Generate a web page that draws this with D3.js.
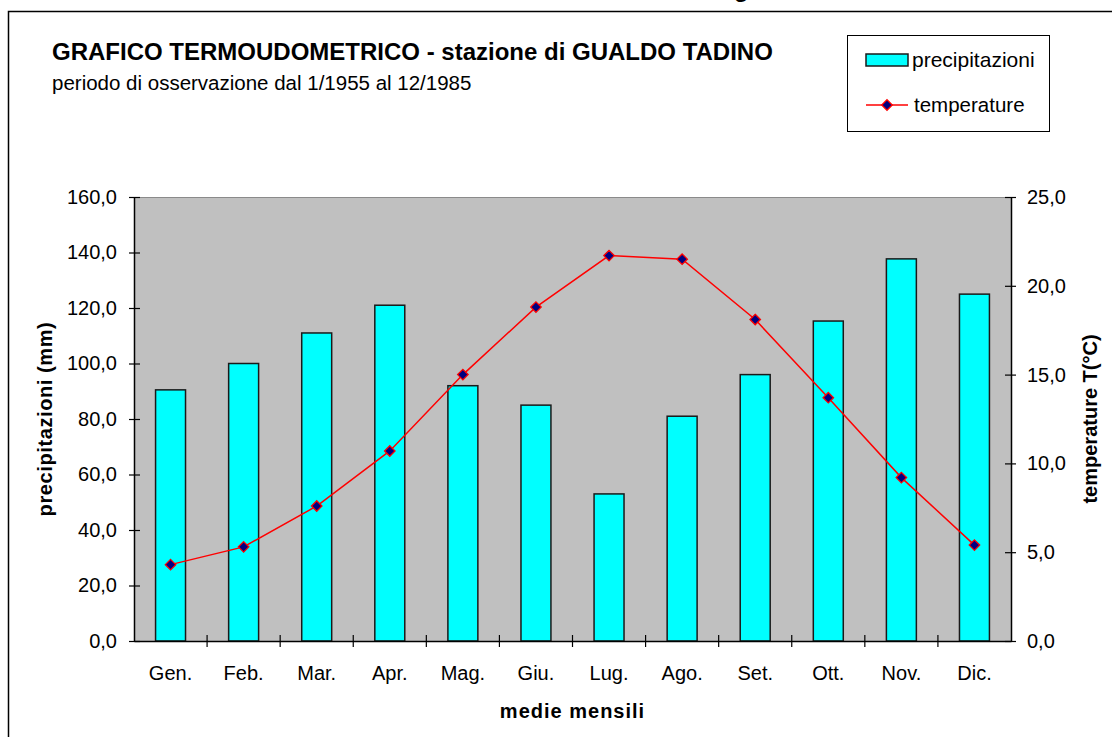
<!DOCTYPE html>
<html>
<head>
<meta charset="utf-8">
<script src="https://cdn.jsdelivr.net/npm/d3@7"></script>
<style>
  body { margin: 0; background: #fff; }
  svg { display: block; font-family: "Liberation Sans", Arial, sans-serif; }
</style>
</head>
<body>
<div id="chart"></div>
<script>
// monthly means, Gualdo Tadino 1955-1985
const months = ["Gen.", "Feb.", "Mar.", "Apr.", "Mag.", "Giu.", "Lug.", "Ago.", "Set.", "Ott.", "Nov.", "Dic."];
const precipitazioni = [90.5, 100.0, 111.0, 121.0, 92.0, 85.0, 53.0, 81.0, 96.0, 115.3, 137.7, 125.0];
const temperature = [4.3, 5.3, 7.6, 10.7, 15.0, 18.8, 21.7, 21.5, 18.1, 13.7, 9.2, 5.4];
const precTicks = [0, 20, 40, 60, 80, 100, 120, 140, 160];
const tempTicks = [0, 5, 10, 15, 20, 25];

const width = 1112, height = 737;
const margin = {top: 197, right: 101, bottom: 96, left: 134};
const plotW = width - margin.left - margin.right;
const plotH = height - margin.top - margin.bottom;

const fmt = v => d3.format(".1f")(v).replace(".", ",");

const svg = d3.select("#chart").append("svg")
    .attr("width", width).attr("height", height);

// outer frame (runs off the right/bottom edge)
svg.append("rect")
    .attr("x", 8.5).attr("y", 11.5)
    .attr("width", width + 20).attr("height", height + 20)
    .attr("fill", "none").attr("stroke", "#000").attr("stroke-width", 1.5);

// clipped glyph of a caption above the frame
svg.append("text")
    .attr("x", 734).attr("y", -3)
    .attr("font-size", 24).attr("font-weight", "bold")
    .text("g");

// titles
svg.append("text")
    .attr("x", 52).attr("y", 60)
    .attr("font-size", 24).attr("font-weight", "bold")
    .text("GRAFICO TERMOUDOMETRICO - stazione di GUALDO TADINO");
svg.append("text")
    .attr("x", 52).attr("y", 90)
    .attr("font-size", 20.5)
    .text("periodo di osservazione dal 1/1955 al 12/1985");

const x = d3.scaleBand().domain(months).range([0, plotW]).paddingInner(0.59).paddingOuter(0.295);
const xb = d3.scaleBand().domain(months).range([0, plotW]);
const yP = d3.scaleLinear().domain([0, 160]).range([plotH, 0]);
const yT = d3.scaleLinear().domain([0, 25]).range([plotH, 0]);

const g = svg.append("g").attr("transform", `translate(${margin.left},${margin.top})`);

g.append("rect")
    .attr("width", plotW).attr("height", plotH)
    .attr("fill", "#c0c0c0");
g.append("line")
    .attr("x1", 0).attr("x2", plotW).attr("y1", 0.5).attr("y2", 0.5)
    .attr("stroke", "#8a8a8a").attr("stroke-width", 1);

// bars
g.selectAll("rect.bar")
    .data(precipitazioni)
    .enter().append("rect")
    .attr("class", "bar")
    .attr("x", (d, i) => x(months[i]))
    .attr("y", d => yP(d))
    .attr("width", x.bandwidth())
    .attr("height", d => plotH - yP(d))
    .attr("fill", "#00ffff")
    .attr("stroke", "#1a1a1a").attr("stroke-width", 1.5);

// axes
const axisLeft = d3.axisLeft(yP).tickValues(precTicks).tickFormat(fmt).tickSizeInner(5).tickSizeOuter(0).tickPadding(12);
const axisRight = d3.axisRight(yT).tickValues(tempTicks).tickFormat(fmt).tickSizeInner(5).tickSizeOuter(0).tickPadding(11);
const axisBottom = d3.axisBottom(xb).tickSize(0).tickPadding(25);

const styleAxis = sel => {
    sel.select(".domain").attr("stroke", "#000").attr("stroke-width", 1.5);
    sel.selectAll(".tick line").attr("stroke", "#000").attr("stroke-width", 1.2);
    sel.selectAll(".tick text").attr("font-size", 20).attr("fill", "#000")
        .attr("font-family", "Liberation Sans, Arial, sans-serif");
};

const gl = g.append("g").call(axisLeft).call(styleAxis);
gl.selectAll(".tick").append("line").attr("x2", 6).attr("stroke", "#000").attr("stroke-width", 1.2);

const gr = g.append("g").attr("transform", `translate(${plotW},0)`).call(axisRight).call(styleAxis);
gr.selectAll(".tick").append("line").attr("x2", -6).attr("stroke", "#000").attr("stroke-width", 1.2);

const gb = g.append("g").attr("transform", `translate(0,${plotH})`).call(axisBottom).call(styleAxis);
gb.selectAll(".tick text").attr("dy", "0.71em");
// ticks at category boundaries
gb.selectAll("line.sep")
    .data(months.slice(1))
    .enter().append("line")
    .attr("class", "sep")
    .attr("x1", d => xb(d)).attr("x2", d => xb(d))
    .attr("y1", -6).attr("y2", 6)
    .attr("stroke", "#000").attr("stroke-width", 1.2);

// temperature line
const line = d3.line()
    .x((d, i) => xb(months[i]) + xb.bandwidth() / 2)
    .y(d => yT(d));
g.append("path")
    .datum(temperature)
    .attr("d", line)
    .attr("fill", "none").attr("stroke", "#ff0000").attr("stroke-width", 1.5);

const diamond = d3.symbol().type(d3.symbolDiamond2).size(70);
g.selectAll("path.pt")
    .data(temperature)
    .enter().append("path")
    .attr("class", "pt")
    .attr("d", diamond)
    .attr("transform", (d, i) => `translate(${xb(months[i]) + xb.bandwidth() / 2},${yT(d)})`)
    .attr("fill", "#000080").attr("stroke", "#ff0000").attr("stroke-width", 1.3);

// axis titles
svg.append("text")
    .attr("transform", `translate(52,${margin.top + plotH / 2}) rotate(-90)`)
    .attr("text-anchor", "middle")
    .attr("font-size", 20).attr("font-weight", "bold").attr("letter-spacing", 0.6)
    .text("precipitazioni (mm)");
svg.append("text")
    .attr("transform", `translate(1097,${margin.top + plotH / 2}) rotate(-90)`)
    .attr("text-anchor", "middle")
    .attr("font-size", 20).attr("font-weight", "bold")
    .text("temperature T(°C)");
svg.append("text")
    .attr("x", margin.left + plotW / 2).attr("y", 718)
    .attr("text-anchor", "middle")
    .attr("font-size", 20).attr("font-weight", "bold").attr("letter-spacing", 1)
    .text("medie mensili");

// legend
const lg = svg.append("g").attr("transform", "translate(847,35)");
lg.append("rect")
    .attr("x", 0.5).attr("y", 0.5).attr("width", 202).attr("height", 96)
    .attr("fill", "#fff").attr("stroke", "#000").attr("stroke-width", 1);
lg.append("rect")
    .attr("x", 19).attr("y", 19).attr("width", 42).attr("height", 12)
    .attr("fill", "#00ffff").attr("stroke", "#1a1a1a").attr("stroke-width", 1.5);
lg.append("text")
    .attr("x", 65).attr("y", 32)
    .attr("font-size", 21)
    .text("precipitazioni");
lg.append("line")
    .attr("x1", 19).attr("x2", 61).attr("y1", 70).attr("y2", 70)
    .attr("stroke", "#ff0000").attr("stroke-width", 1.5);
lg.append("path")
    .attr("d", diamond)
    .attr("transform", "translate(40,70)")
    .attr("fill", "#000080").attr("stroke", "#ff0000").attr("stroke-width", 1.3);
lg.append("text")
    .attr("x", 67).attr("y", 77)
    .attr("font-size", 20.5)
    .text("temperature");
</script>
</body>
</html>
